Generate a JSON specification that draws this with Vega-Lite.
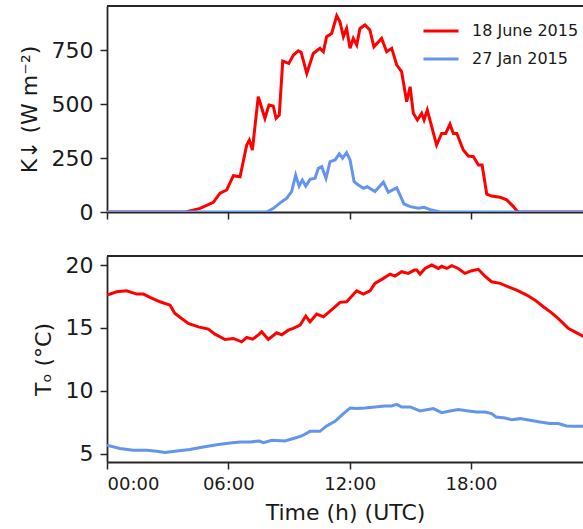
{
  "$schema": "https://vega.github.io/schema/vega-lite/v6.json",
  "background": "white",
  "padding": {"left": 18, "top": 5, "right": 0, "bottom": 0},
  "spacing": 31,
  "config": {
    "font": "DejaVu Sans",
    "view": {"stroke": null},
    "axis": {
      "grid": false,
      "domainColor": "#262626",
      "domainWidth": 1.8,
      "tickColor": "#262626",
      "tickWidth": 1.5,
      "tickSize": 7,
      "labelColor": "#1a1a1a",
      "labelFont": "DejaVu Sans",
      "titleFont": "DejaVu Sans",
      "titleColor": "#1a1a1a",
      "titleFontWeight": "normal",
      "titleFontSize": 22
    }
  },
  "resolve": {"scale": {"color": "independent"}, "legend": {"color": "independent"}},
  "datasets": {
    "k": [
      {"h": 0, "v": 0, "series": "18 June 2015"},
      {"h": 3.9, "v": 0, "series": "18 June 2015"},
      {"h": 4.6, "v": 17, "series": "18 June 2015"},
      {"h": 5.26, "v": 45, "series": "18 June 2015"},
      {"h": 5.59, "v": 87, "series": "18 June 2015"},
      {"h": 5.92, "v": 102, "series": "18 June 2015"},
      {"h": 6.25, "v": 168, "series": "18 June 2015"},
      {"h": 6.58, "v": 163, "series": "18 June 2015"},
      {"h": 6.91, "v": 310, "series": "18 June 2015"},
      {"h": 7.04, "v": 333, "series": "18 June 2015"},
      {"h": 7.19, "v": 287, "series": "18 June 2015"},
      {"h": 7.48, "v": 534, "series": "18 June 2015"},
      {"h": 7.81, "v": 434, "series": "18 June 2015"},
      {"h": 8.01, "v": 495, "series": "18 June 2015"},
      {"h": 8.22, "v": 491, "series": "18 June 2015"},
      {"h": 8.36, "v": 434, "series": "18 June 2015"},
      {"h": 8.52, "v": 449, "series": "18 June 2015"},
      {"h": 8.69, "v": 699, "series": "18 June 2015"},
      {"h": 8.99, "v": 688, "series": "18 June 2015"},
      {"h": 9.22, "v": 727, "series": "18 June 2015"},
      {"h": 9.46, "v": 747, "series": "18 June 2015"},
      {"h": 9.6, "v": 740, "series": "18 June 2015"},
      {"h": 9.88, "v": 642, "series": "18 June 2015"},
      {"h": 10.2, "v": 734, "series": "18 June 2015"},
      {"h": 10.53, "v": 758, "series": "18 June 2015"},
      {"h": 10.7, "v": 742, "series": "18 June 2015"},
      {"h": 10.86, "v": 812, "series": "18 June 2015"},
      {"h": 11.11, "v": 827, "series": "18 June 2015"},
      {"h": 11.36, "v": 909, "series": "18 June 2015"},
      {"h": 11.52, "v": 881, "series": "18 June 2015"},
      {"h": 11.69, "v": 812, "series": "18 June 2015"},
      {"h": 11.85, "v": 850, "series": "18 June 2015"},
      {"h": 12.02, "v": 758, "series": "18 June 2015"},
      {"h": 12.18, "v": 804, "series": "18 June 2015"},
      {"h": 12.35, "v": 773, "series": "18 June 2015"},
      {"h": 12.51, "v": 850, "series": "18 June 2015"},
      {"h": 12.76, "v": 866, "series": "18 June 2015"},
      {"h": 13.0, "v": 843, "series": "18 June 2015"},
      {"h": 13.2, "v": 765, "series": "18 June 2015"},
      {"h": 13.58, "v": 804, "series": "18 June 2015"},
      {"h": 13.83, "v": 742, "series": "18 June 2015"},
      {"h": 14.08, "v": 758, "series": "18 June 2015"},
      {"h": 14.33, "v": 680, "series": "18 June 2015"},
      {"h": 14.57, "v": 650, "series": "18 June 2015"},
      {"h": 14.82, "v": 511, "series": "18 June 2015"},
      {"h": 14.99, "v": 580, "series": "18 June 2015"},
      {"h": 15.15, "v": 457, "series": "18 June 2015"},
      {"h": 15.35, "v": 426, "series": "18 June 2015"},
      {"h": 15.56, "v": 457, "series": "18 June 2015"},
      {"h": 15.68, "v": 426, "series": "18 June 2015"},
      {"h": 15.84, "v": 472, "series": "18 June 2015"},
      {"h": 16.3, "v": 310, "series": "18 June 2015"},
      {"h": 16.55, "v": 364, "series": "18 June 2015"},
      {"h": 16.75, "v": 364, "series": "18 June 2015"},
      {"h": 16.96, "v": 407, "series": "18 June 2015"},
      {"h": 17.13, "v": 364, "series": "18 June 2015"},
      {"h": 17.3, "v": 364, "series": "18 June 2015"},
      {"h": 17.62, "v": 287, "series": "18 June 2015"},
      {"h": 17.87, "v": 259, "series": "18 June 2015"},
      {"h": 18.12, "v": 256, "series": "18 June 2015"},
      {"h": 18.37, "v": 218, "series": "18 June 2015"},
      {"h": 18.55, "v": 218, "series": "18 June 2015"},
      {"h": 18.78, "v": 83, "series": "18 June 2015"},
      {"h": 19.02, "v": 74, "series": "18 June 2015"},
      {"h": 19.44, "v": 68, "series": "18 June 2015"},
      {"h": 19.77, "v": 56, "series": "18 June 2015"},
      {"h": 20.1, "v": 25, "series": "18 June 2015"},
      {"h": 20.26, "v": 6, "series": "18 June 2015"},
      {"h": 20.4, "v": 0, "series": "18 June 2015"},
      {"h": 23.92, "v": 0, "series": "18 June 2015"},
      {"h": 0, "v": 0, "series": "27 Jan 2015"},
      {"h": 7.9, "v": 0, "series": "27 Jan 2015"},
      {"h": 8.23, "v": 17, "series": "27 Jan 2015"},
      {"h": 8.64, "v": 48, "series": "27 Jan 2015"},
      {"h": 8.88, "v": 63, "series": "27 Jan 2015"},
      {"h": 9.13, "v": 94, "series": "27 Jan 2015"},
      {"h": 9.33, "v": 171, "series": "27 Jan 2015"},
      {"h": 9.5, "v": 120, "series": "27 Jan 2015"},
      {"h": 9.66, "v": 148, "series": "27 Jan 2015"},
      {"h": 9.83, "v": 120, "series": "27 Jan 2015"},
      {"h": 10.04, "v": 151, "series": "27 Jan 2015"},
      {"h": 10.29, "v": 156, "series": "27 Jan 2015"},
      {"h": 10.45, "v": 202, "series": "27 Jan 2015"},
      {"h": 10.62, "v": 210, "series": "27 Jan 2015"},
      {"h": 10.83, "v": 156, "series": "27 Jan 2015"},
      {"h": 11.03, "v": 233, "series": "27 Jan 2015"},
      {"h": 11.28, "v": 241, "series": "27 Jan 2015"},
      {"h": 11.49, "v": 269, "series": "27 Jan 2015"},
      {"h": 11.65, "v": 249, "series": "27 Jan 2015"},
      {"h": 11.85, "v": 275, "series": "27 Jan 2015"},
      {"h": 12.02, "v": 241, "series": "27 Jan 2015"},
      {"h": 12.22, "v": 140, "series": "27 Jan 2015"},
      {"h": 12.43, "v": 125, "series": "27 Jan 2015"},
      {"h": 12.68, "v": 110, "series": "27 Jan 2015"},
      {"h": 12.87, "v": 117, "series": "27 Jan 2015"},
      {"h": 13.25, "v": 95, "series": "27 Jan 2015"},
      {"h": 13.67, "v": 138, "series": "27 Jan 2015"},
      {"h": 13.91, "v": 92, "series": "27 Jan 2015"},
      {"h": 14.33, "v": 112, "series": "27 Jan 2015"},
      {"h": 14.69, "v": 37, "series": "27 Jan 2015"},
      {"h": 15.0, "v": 25, "series": "27 Jan 2015"},
      {"h": 15.4, "v": 17, "series": "27 Jan 2015"},
      {"h": 15.68, "v": 22, "series": "27 Jan 2015"},
      {"h": 16.05, "v": 9, "series": "27 Jan 2015"},
      {"h": 16.47, "v": 0, "series": "27 Jan 2015"},
      {"h": 23.92, "v": 0, "series": "27 Jan 2015"}
    ],
    "t": [
      {"h": 0, "v": 17.61, "series": "18 June 2015"},
      {"h": 0.48, "v": 17.87, "series": "18 June 2015"},
      {"h": 0.97, "v": 17.95, "series": "18 June 2015"},
      {"h": 1.47, "v": 17.69, "series": "18 June 2015"},
      {"h": 1.8, "v": 17.69, "series": "18 June 2015"},
      {"h": 2.13, "v": 17.43, "series": "18 June 2015"},
      {"h": 2.62, "v": 17.08, "series": "18 June 2015"},
      {"h": 3.12, "v": 16.81, "series": "18 June 2015"},
      {"h": 3.36, "v": 16.15, "series": "18 June 2015"},
      {"h": 3.69, "v": 15.75, "series": "18 June 2015"},
      {"h": 4.02, "v": 15.35, "series": "18 June 2015"},
      {"h": 4.52, "v": 15.08, "series": "18 June 2015"},
      {"h": 5.01, "v": 14.9, "series": "18 June 2015"},
      {"h": 5.34, "v": 14.5, "series": "18 June 2015"},
      {"h": 5.84, "v": 14.08, "series": "18 June 2015"},
      {"h": 6.25, "v": 14.16, "series": "18 June 2015"},
      {"h": 6.66, "v": 13.89, "series": "18 June 2015"},
      {"h": 6.91, "v": 14.24, "series": "18 June 2015"},
      {"h": 7.21, "v": 14.1, "series": "18 June 2015"},
      {"h": 7.53, "v": 14.5, "series": "18 June 2015"},
      {"h": 7.65, "v": 14.69, "series": "18 June 2015"},
      {"h": 7.98, "v": 14.08, "series": "18 June 2015"},
      {"h": 8.39, "v": 14.61, "series": "18 June 2015"},
      {"h": 8.64, "v": 14.45, "series": "18 June 2015"},
      {"h": 8.97, "v": 14.82, "series": "18 June 2015"},
      {"h": 9.21, "v": 14.96, "series": "18 June 2015"},
      {"h": 9.55, "v": 15.22, "series": "18 June 2015"},
      {"h": 9.83, "v": 15.94, "series": "18 June 2015"},
      {"h": 10.04, "v": 15.48, "series": "18 June 2015"},
      {"h": 10.37, "v": 16.1, "series": "18 June 2015"},
      {"h": 10.7, "v": 15.88, "series": "18 June 2015"},
      {"h": 11.19, "v": 16.55, "series": "18 June 2015"},
      {"h": 11.52, "v": 17.03, "series": "18 June 2015"},
      {"h": 11.85, "v": 17.08, "series": "18 June 2015"},
      {"h": 12.35, "v": 17.95, "series": "18 June 2015"},
      {"h": 12.68, "v": 17.69, "series": "18 June 2015"},
      {"h": 13.01, "v": 17.95, "series": "18 June 2015"},
      {"h": 13.25, "v": 18.54, "series": "18 June 2015"},
      {"h": 13.67, "v": 18.94, "series": "18 June 2015"},
      {"h": 14.0, "v": 19.28, "series": "18 June 2015"},
      {"h": 14.24, "v": 19.12, "series": "18 June 2015"},
      {"h": 14.57, "v": 19.47, "series": "18 June 2015"},
      {"h": 14.9, "v": 19.34, "series": "18 June 2015"},
      {"h": 15.2, "v": 19.6, "series": "18 June 2015"},
      {"h": 15.32, "v": 19.6, "series": "18 June 2015"},
      {"h": 15.48, "v": 19.28, "series": "18 June 2015"},
      {"h": 15.73, "v": 19.73, "series": "18 June 2015"},
      {"h": 16.06, "v": 20.0, "series": "18 June 2015"},
      {"h": 16.39, "v": 19.73, "series": "18 June 2015"},
      {"h": 16.55, "v": 19.9, "series": "18 June 2015"},
      {"h": 16.8, "v": 19.73, "series": "18 June 2015"},
      {"h": 17.05, "v": 19.95, "series": "18 June 2015"},
      {"h": 17.37, "v": 19.73, "series": "18 June 2015"},
      {"h": 17.7, "v": 19.34, "series": "18 June 2015"},
      {"h": 18.04, "v": 19.55, "series": "18 June 2015"},
      {"h": 18.36, "v": 19.66, "series": "18 June 2015"},
      {"h": 18.69, "v": 19.12, "series": "18 June 2015"},
      {"h": 19.02, "v": 18.67, "series": "18 June 2015"},
      {"h": 19.44, "v": 18.54, "series": "18 June 2015"},
      {"h": 19.85, "v": 18.27, "series": "18 June 2015"},
      {"h": 20.26, "v": 18.0, "series": "18 June 2015"},
      {"h": 20.76, "v": 17.61, "series": "18 June 2015"},
      {"h": 21.17, "v": 17.21, "series": "18 June 2015"},
      {"h": 21.58, "v": 16.68, "series": "18 June 2015"},
      {"h": 21.99, "v": 16.2, "series": "18 June 2015"},
      {"h": 22.4, "v": 15.62, "series": "18 June 2015"},
      {"h": 22.81, "v": 14.96, "series": "18 June 2015"},
      {"h": 23.23, "v": 14.61, "series": "18 June 2015"},
      {"h": 23.54, "v": 14.34, "series": "18 June 2015"},
      {"h": 23.92, "v": 14.0, "series": "18 June 2015"},
      {"h": 0, "v": 5.66, "series": "27 Jan 2015"},
      {"h": 0.64, "v": 5.4, "series": "27 Jan 2015"},
      {"h": 1.3, "v": 5.26, "series": "27 Jan 2015"},
      {"h": 1.96, "v": 5.26, "series": "27 Jan 2015"},
      {"h": 2.45, "v": 5.18, "series": "27 Jan 2015"},
      {"h": 2.87, "v": 5.08, "series": "27 Jan 2015"},
      {"h": 3.45, "v": 5.2, "series": "27 Jan 2015"},
      {"h": 4.1, "v": 5.32, "series": "27 Jan 2015"},
      {"h": 4.76, "v": 5.52, "series": "27 Jan 2015"},
      {"h": 5.43, "v": 5.71, "series": "27 Jan 2015"},
      {"h": 6.08, "v": 5.84, "series": "27 Jan 2015"},
      {"h": 6.58, "v": 5.92, "series": "27 Jan 2015"},
      {"h": 7.08, "v": 5.92, "series": "27 Jan 2015"},
      {"h": 7.53, "v": 6.0, "series": "27 Jan 2015"},
      {"h": 7.73, "v": 5.87, "series": "27 Jan 2015"},
      {"h": 8.15, "v": 6.06, "series": "27 Jan 2015"},
      {"h": 8.8, "v": 6.0, "series": "27 Jan 2015"},
      {"h": 9.3, "v": 6.24, "series": "27 Jan 2015"},
      {"h": 9.63, "v": 6.4, "series": "27 Jan 2015"},
      {"h": 10.04, "v": 6.77, "series": "27 Jan 2015"},
      {"h": 10.53, "v": 6.77, "series": "27 Jan 2015"},
      {"h": 10.86, "v": 7.2, "series": "27 Jan 2015"},
      {"h": 11.28, "v": 7.57, "series": "27 Jan 2015"},
      {"h": 11.69, "v": 8.18, "series": "27 Jan 2015"},
      {"h": 12.02, "v": 8.63, "series": "27 Jan 2015"},
      {"h": 12.35, "v": 8.58, "series": "27 Jan 2015"},
      {"h": 12.76, "v": 8.63, "series": "27 Jan 2015"},
      {"h": 13.25, "v": 8.71, "series": "27 Jan 2015"},
      {"h": 13.75, "v": 8.79, "series": "27 Jan 2015"},
      {"h": 14.08, "v": 8.79, "series": "27 Jan 2015"},
      {"h": 14.33, "v": 8.92, "series": "27 Jan 2015"},
      {"h": 14.57, "v": 8.71, "series": "27 Jan 2015"},
      {"h": 14.99, "v": 8.71, "series": "27 Jan 2015"},
      {"h": 15.48, "v": 8.39, "series": "27 Jan 2015"},
      {"h": 16.14, "v": 8.58, "series": "27 Jan 2015"},
      {"h": 16.55, "v": 8.26, "series": "27 Jan 2015"},
      {"h": 16.96, "v": 8.39, "series": "27 Jan 2015"},
      {"h": 17.37, "v": 8.5, "series": "27 Jan 2015"},
      {"h": 17.87, "v": 8.39, "series": "27 Jan 2015"},
      {"h": 18.28, "v": 8.31, "series": "27 Jan 2015"},
      {"h": 18.69, "v": 8.31, "series": "27 Jan 2015"},
      {"h": 19.02, "v": 8.18, "series": "27 Jan 2015"},
      {"h": 19.24, "v": 7.91, "series": "27 Jan 2015"},
      {"h": 19.68, "v": 7.83, "series": "27 Jan 2015"},
      {"h": 20.01, "v": 7.7, "series": "27 Jan 2015"},
      {"h": 20.43, "v": 7.78, "series": "27 Jan 2015"},
      {"h": 20.92, "v": 7.65, "series": "27 Jan 2015"},
      {"h": 21.41, "v": 7.51, "series": "27 Jan 2015"},
      {"h": 21.9, "v": 7.39, "series": "27 Jan 2015"},
      {"h": 22.32, "v": 7.39, "series": "27 Jan 2015"},
      {"h": 22.73, "v": 7.2, "series": "27 Jan 2015"},
      {"h": 23.15, "v": 7.17, "series": "27 Jan 2015"},
      {"h": 23.54, "v": 7.17, "series": "27 Jan 2015"},
      {"h": 23.92, "v": 7.15, "series": "27 Jan 2015"}
    ]
  },
  "vconcat": [
    {
      "width": 476,
      "height": 206,
      "data": {"name": "k"},
      "layer": [
        {
          "mark": {"type": "line", "clip": true, "strokeWidth": 3},
          "encoding": {
            "x": {
              "field": "h", "type": "quantitative",
              "scale": {"domain": [0, 23.54], "nice": false, "zero": false},
              "axis": {"values": [0, 6, 12, 18], "labels": false, "title": null}
            },
            "y": {
              "field": "v", "type": "quantitative",
              "scale": {"domain": [0, 954], "nice": false},
              "axis": {
                "values": [0, 250, 500, 750],
                "title": "K↓ (W m⁻²)",
                "labelFontSize": 22,
                "labelPadding": 7,
                "titlePadding": 10
              }
            },
            "color": {
              "field": "series", "type": "nominal",
              "scale": {"domain": ["18 June 2015", "27 Jan 2015"], "range": ["#ff0000", "#6495ed"]},
              "legend": {
                "title": null,
                "orient": "none",
                "legendX": 315,
                "legendY": 6,
                "direction": "vertical",
                "symbolType": "stroke",
                "symbolSize": 1225,
                "symbolStrokeWidth": 3,
                "labelFontSize": 16,
                "labelFont": "DejaVu Sans",
                "labelColor": "#1a1a1a",
                "labelOffset": 12,
                "rowPadding": 1,
                "padding": 0
              }
            }
          }
        },
        {
          "mark": {"type": "rule", "color": "#262626", "strokeWidth": 1.8},
          "encoding": {"y": {"datum": 954}}
        }
      ]
    },
    {
      "width": 476,
      "height": 206,
      "data": {"name": "t"},
      "layer": [
        {
          "mark": {"type": "line", "clip": true, "strokeWidth": 3},
          "encoding": {
            "x": {
              "field": "h", "type": "quantitative",
              "scale": {"domain": [0, 23.54], "nice": false, "zero": false},
              "axis": {
                "values": [0, 6, 12, 18],
                "labelExpr": "(datum.value < 10 ? '0' : '') + datum.value + ':00'",
                "labelFontSize": 18,
                "labelPadding": 6,
                "title": "Time (h) (UTC)",
                "titlePadding": 9
              }
            },
            "y": {
              "field": "v", "type": "quantitative",
              "scale": {"domain": [4.33, 20.72], "nice": false, "zero": false},
              "axis": {
                "values": [5, 10, 15, 20],
                "title": "Tₒ (°C)",
                "labelFontSize": 22,
                "labelPadding": 7,
                "titlePadding": 10
              }
            },
            "color": {
              "field": "series", "type": "nominal",
              "scale": {"domain": ["18 June 2015", "27 Jan 2015"], "range": ["#ff0000", "#6495ed"]},
              "legend": null
            }
          }
        },
        {
          "mark": {"type": "rule", "color": "#262626", "strokeWidth": 1.8},
          "encoding": {"y": {"datum": 20.72}}
        }
      ]
    }
  ]
}
